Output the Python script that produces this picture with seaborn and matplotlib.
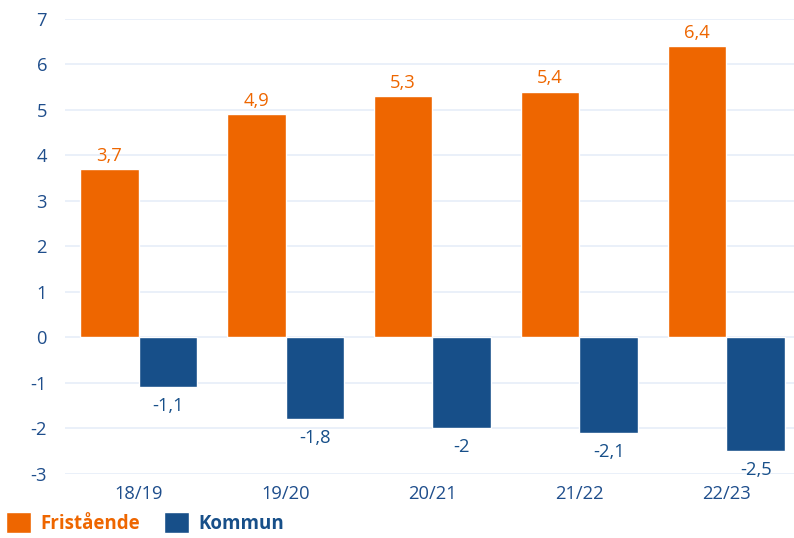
import matplotlib
matplotlib.use('Agg')
import matplotlib.pyplot as plt
import seaborn as sns
import pandas as pd
from matplotlib.patches import Patch

# Data
years = ['18/19', '19/20', '20/21', '21/22', '22/23']
friststaende = [3.7, 4.9, 5.3, 5.4, 6.4]
kommun = [-1.1, -1.8, -2.0, -2.1, -2.5]
series = ['Fristående', 'Kommun']

orange = '#EE6600'
blue = '#174F89'
tick_color = '#1F4E8C'

df = pd.DataFrame({
    'År': years * 2,
    'Värde': friststaende + kommun,
    'Huvudman': [series[0]] * len(years) + [series[1]] * len(years),
})

sns.set_theme(style='white')
plt.rcParams['font.family'] = ['Open Sans', 'DejaVu Sans']
plt.rcParams['axes.unicode_minus'] = False

fig = plt.figure(figsize=(7.94, 5.38), dpi=100)
ax = fig.add_axes([0.082, 0.119, 0.918, 0.846])

sns.barplot(data=df, x='År', y='Värde', hue='Huvudman', hue_order=series,
            palette=[orange, blue], width=0.8, saturation=1, legend=False, ax=ax)

ax.set_ylim(-3, 7)
ax.set_xlim(-0.5, 4.46)
ax.set_yticks(range(-3, 8))
ax.yaxis.grid(True, color='#E6EEF8', linewidth=1.2)
ax.set_axisbelow(True)
for s in ax.spines.values():
    s.set_visible(False)
ax.set_xlabel('')
ax.set_ylabel('')
ax.tick_params(axis='y', length=0, pad=13, labelsize=13.2, labelcolor=tick_color)
ax.tick_params(axis='x', length=0, pad=8, labelsize=13.2, labelcolor=tick_color)


def fmt(v):
    s = f'{v:.1f}'.replace('.', ',')
    return s[:-2] if s.endswith(',0') else s


pads = [3, 7]
for cont, col, pad in zip(ax.containers, [orange, blue], pads):
    labels = [fmt(b.get_height()) for b in cont]
    ax.bar_label(cont, labels=labels, padding=pad, color=col, fontsize=13.2)

handles = [Patch(facecolor=orange), Patch(facecolor=blue)]
leg = fig.legend(handles, series, loc='lower left', bbox_to_anchor=(-0.006, -0.013),
                 ncol=2, frameon=False, handlelength=1.3, handleheight=1.3,
                 handletextpad=0.5, columnspacing=1.3, borderaxespad=0.2,
                 prop={'weight': 'bold', 'size': 13.5})
for t, col in zip(leg.get_texts(), [orange, blue]):
    t.set_color(col)

fig.savefig('out.png', dpi=100)
